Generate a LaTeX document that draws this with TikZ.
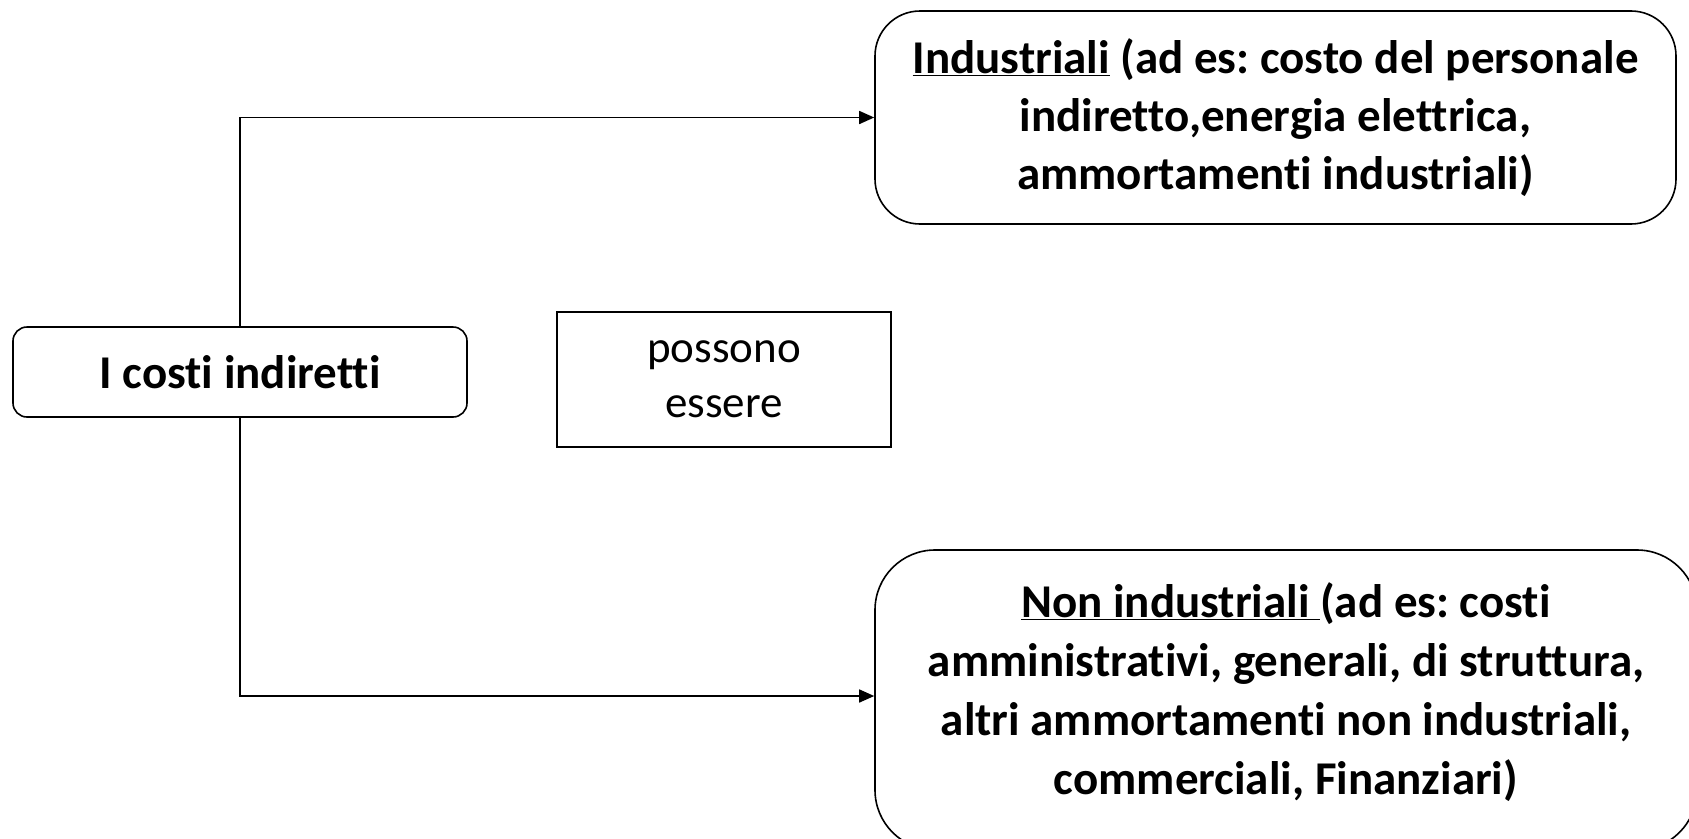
\documentclass[tikz,border=0pt]{standalone}
\usepackage{fontspec}
\setmainfont{Carlito}[Ligatures=NoCommon]
\usetikzlibrary{arrows.meta}
\frenchspacing
\tikzset{
  box/.style={draw, line width=1.6pt, align=center, inner sep=0pt},
  bigtxt/.style={font=\fontsize{47}{57}\selectfont\bfseries},
  conn/.style={line width=1.6pt, -{Triangle[length=15pt,width=13pt]}},
}
\begin{document}
\begin{tikzpicture}[x=1pt,y=-1pt]
\useasboundingbox (0,0) rectangle (1689,838);
\clip (0,0) rectangle (1689,838);
\fill[white] (0,0) rectangle (1689,838);
\node[box, bigtxt, rounded corners=14pt, minimum width=454pt, minimum height=90pt] (src) at (240,372) {I costi indiretti};
\node[box, font=\fontsize{45}{55}\selectfont, minimum width=334pt, minimum height=135pt] (mid) at (724,379.5) {possono\\essere};
\node[box, font=\fontsize{47}{58}\selectfont\bfseries, rounded corners=45pt, minimum width=801pt, minimum height=213pt] (ind) at (1275.5,117.5) {\underline{Industriali} (ad es: costo del personale\\indiretto,energia elettrica,\\ammortamenti industriali)};
\node[box, bigtxt, rounded corners=60pt, minimum width=822pt, minimum height=300pt, align=center] (non) at (1286,700) {\underline{Non industriali }(ad es: costi\\[2pt]amministrativi, generali, di struttura,\\[2pt]altri ammortamenti non industriali,\\[2pt]commerciali, Finanziari)\rule[-23pt]{0pt}{1pt}};
\draw[conn] (src.north) |- (ind.west);
\draw[conn] (src.south) |- ([yshift=4pt]non.west);
\end{tikzpicture}
\end{document}
